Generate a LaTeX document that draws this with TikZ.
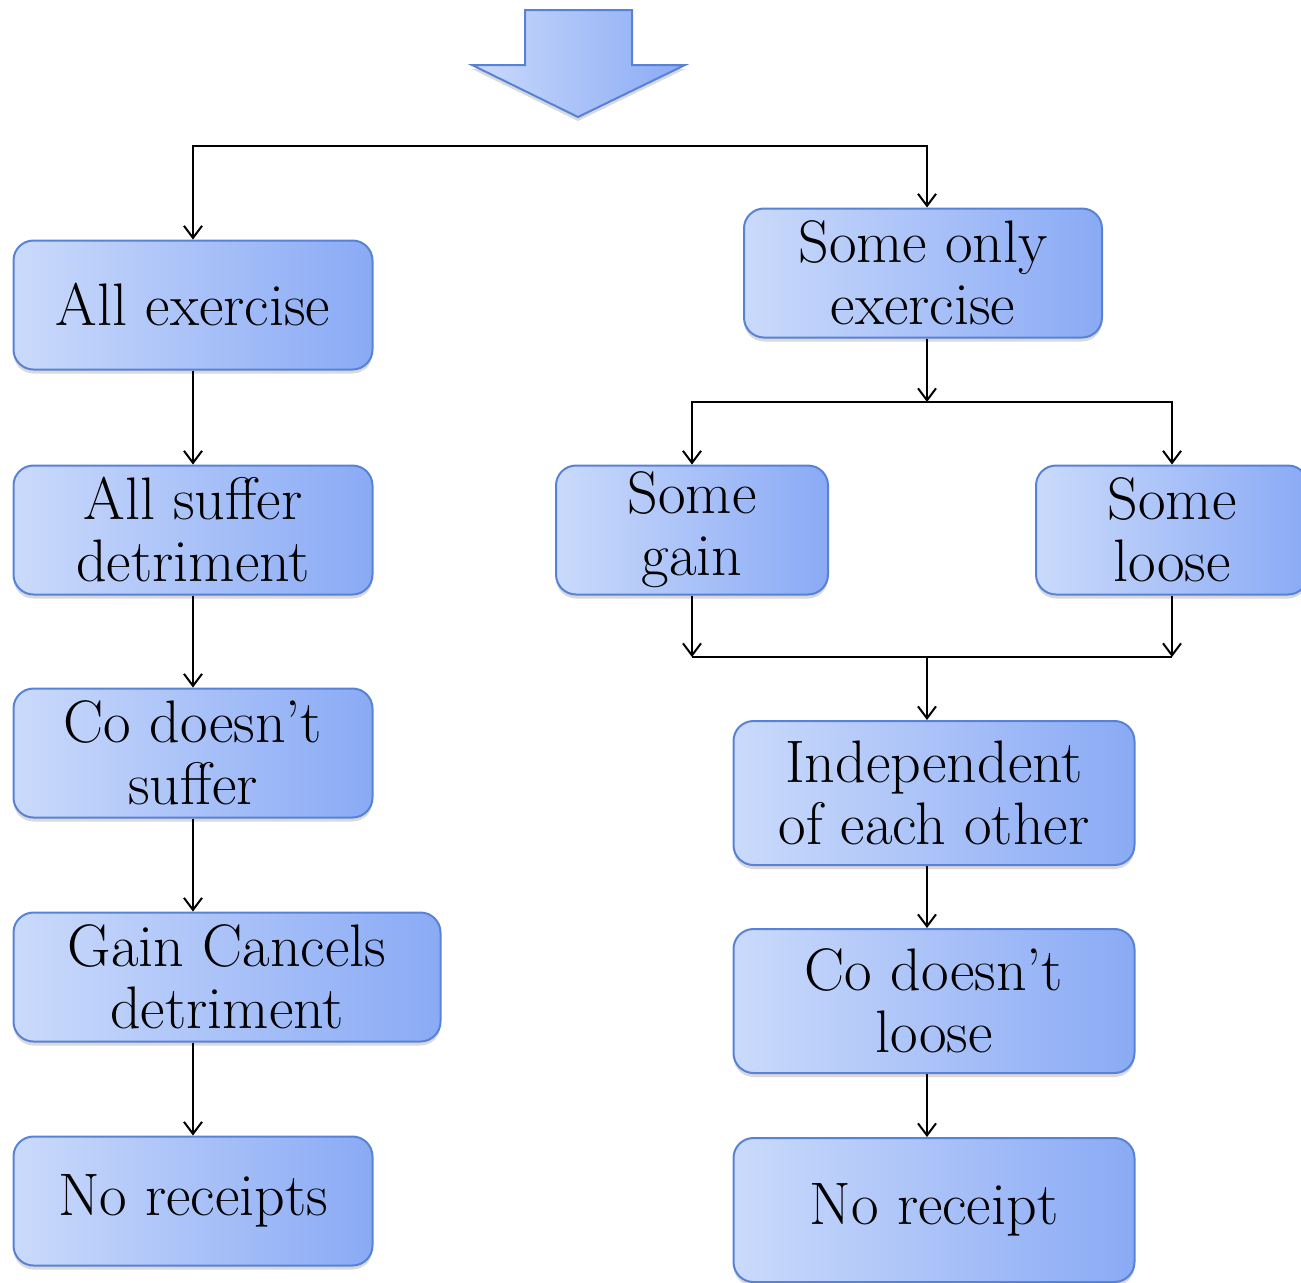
\documentclass[tikz,border=0pt]{standalone}
\usetikzlibrary{arrows.meta,shadows}
\definecolor{boxline}{RGB}{88,130,214}
\definecolor{boxlight}{RGB}{202,218,251}
\definecolor{boxdark}{RGB}{138,170,245}

\begin{document}
\begin{tikzpicture}[x=0.5pt, y=-0.5pt,
  >={Straight Barb[length=6pt,width=9pt]},
  conn/.style={line width=1pt, black},
  box/.style={draw=boxline, line width=1pt, rounded corners=10pt,
    left color=boxlight, right color=boxdark, align=center,
    inner sep=0pt, font=\fontsize{30}{31}\selectfont,
    drop shadow={opacity=0.3, shadow xshift=0pt, shadow yshift=-2pt}}]
\useasboundingbox (0,0) rectangle (1301,1282);

\filldraw[draw=boxline, line width=1pt, left color=boxlight, right color=boxdark,
  drop shadow={opacity=0.3, shadow xshift=0pt, shadow yshift=-2pt}]
  (525,10) -- (632,10) -- (632,65) -- (685,65) -- (578,117) -- (472,65) -- (525,65) -- cycle;

\node[box, minimum width=179.5pt, minimum height=64.5pt] (allex) at (193,305) {All exercise};
\node[box, minimum width=179.5pt, minimum height=64.5pt] (allsuf) at (193,530) {All suffer\\detriment};
\node[box, minimum width=179.5pt, minimum height=64.5pt] (cosuf) at (193,753) {Co doesn't\\suffer};
\node[box, minimum width=213.5pt, minimum height=64.5pt] (gainc) at (227,977) {Gain Cancels\\detriment};
\node[box, minimum width=179.5pt, minimum height=64.5pt] (norec) at (193,1201) {No receipts};

\node[box, minimum width=179pt, minimum height=64.5pt] (someonly) at (923,273) {Some only\\exercise};
\node[box, minimum width=136pt, minimum height=64.5pt] (somegain) at (692,530) {Some\\gain};
\node[box, minimum width=136pt, minimum height=64.5pt] (someloose) at (1172,530) {Some\\loose};
\node[box, minimum width=200.5pt, minimum height=72pt] (indep) at (934,793) {Independent\\of each other};
\node[box, minimum width=200.5pt, minimum height=72pt] (coloose) at (934,1001) {Co doesn't\\loose};
\node[box, minimum width=200.5pt, minimum height=72pt] (norecr) at (934,1210) {No receipt};

\coordinate (fork) at (560,146);
\coordinate (split) at (927,402);
\coordinate (merge) at (927,657);

\draw[conn, ->] (fork) -| (allex);
\draw[conn, ->] (fork) -| (someonly.north -| split);
\draw[conn, ->] (allex) -- (allsuf);
\draw[conn, ->] (allsuf) -- (cosuf);
\draw[conn, ->] (cosuf) -- (cosuf.south |- gainc.north);
\draw[conn, ->] (gainc.south -| norec) -- (norec);

\draw[conn, ->] (someonly.south -| split) -- (split);
\draw[conn, ->] (split) -| (somegain);
\draw[conn, ->] (split) -| (someloose);
\draw[conn, ->] (somegain) -- (somegain |- merge);
\draw[conn, ->] (someloose) -- (someloose |- merge);
\draw[conn] (somegain |- merge) -- (someloose |- merge);
\draw[conn, ->] (merge) -- (merge |- indep.north);
\draw[conn, ->] (indep.south -| merge) -- (merge |- coloose.north);
\draw[conn, ->] (coloose.south -| merge) -- (merge |- norecr.north);
\end{tikzpicture}
\end{document}
